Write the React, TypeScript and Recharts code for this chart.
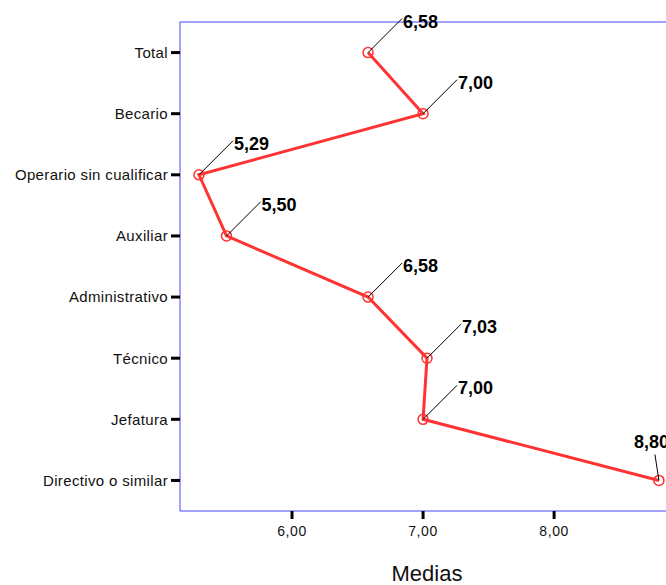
import React from 'react'
import { LineChart, Line, XAxis, YAxis, ReferenceArea } from 'recharts'

const categories = [
  'Total',
  'Becario',
  'Operario sin cualificar',
  'Auxiliar',
  'Administrativo',
  'Técnico',
  'Jefatura',
  'Directivo o similar',
]
const medias = [6.58, 7.0, 5.29, 5.5, 6.58, 7.03, 7.0, 8.8]
const xTicks = [6, 7, 8]

const data = categories.map((name, i) => ({ name, media: medias[i] }))

const FONT = '"Liberation Sans", Arial, sans-serif'
const RED = '#ff3333'
const BLUE = '#4444ff'
const X_MIN = 5.145
const X_MAX = 8.915

const fmt = (v: number) => v.toFixed(2).replace('.', ',')

// valor con linea guia hacia arriba a la derecha (o a la izquierda si esta pegado al borde)
const ValueLabel = (props: any) => {
  const { x, y, value } = props
  if (x == null || y == null) return null
  const nearEdge = value > 8.5
  const lx = nearEdge ? x - 4 : x + 34
  const ly = nearEdge ? y - 26 : y - 34
  const tx = nearEdge ? x - 25 : x + 35
  const ty = nearEdge ? y - 32 : y - 25
  return (
    <g>
      <line x1={x} y1={y} x2={lx} y2={ly} stroke="#000" strokeWidth={1} />
      <text x={tx} y={ty} fontFamily={FONT} fontSize={18} fontWeight="bold" fill="#000">
        {fmt(value)}
      </text>
    </g>
  )
}

const App = () => {
  return (
    <div style={{ position: 'absolute', left: 0, top: 0, width: 666, height: 585, overflow: 'hidden', background: '#fff' }}>
      <LineChart
        layout="vertical"
        width={700}
        height={585}
        data={data}
        margin={{ top: 22, right: 26, bottom: 0, left: 0 }}
      >
        <ReferenceArea x1={X_MIN} x2={X_MAX} fill="none" stroke={BLUE} strokeWidth={1} fillOpacity={0} />
        <XAxis
          type="number"
          dataKey="media"
          domain={[X_MIN, X_MAX]}
          ticks={xTicks}
          tickFormatter={fmt}
          height={74}
          axisLine={false}
          tickLine={{ stroke: '#000', strokeWidth: 3 }}
          tickSize={8}
          tickMargin={7}
          tick={{ fontFamily: FONT, fontSize: 14, fill: '#111', letterSpacing: 0.6 }}
          label={{ value: 'Medias', position: 'insideBottom', offset: 4, fontFamily: FONT, fontSize: 22, fill: '#111' }}
        />
        <YAxis
          type="category"
          dataKey="name"
          scale="band"
          width={180}
          axisLine={false}
          tickLine={{ stroke: '#000', strokeWidth: 3 }}
          tickSize={9}
          tickMargin={3}
          interval={0}
          tick={{ fontFamily: FONT, fontSize: 15, fill: '#111', letterSpacing: 0.35 }}
        />
        <Line
          dataKey="media"
          stroke={RED}
          strokeWidth={3}
          dot={{ r: 5, stroke: RED, strokeWidth: 1.5, fill: 'none' }}
          label={<ValueLabel />}
          isAnimationActive={false}
        />
      </LineChart>
    </div>
  )
}

export default App
